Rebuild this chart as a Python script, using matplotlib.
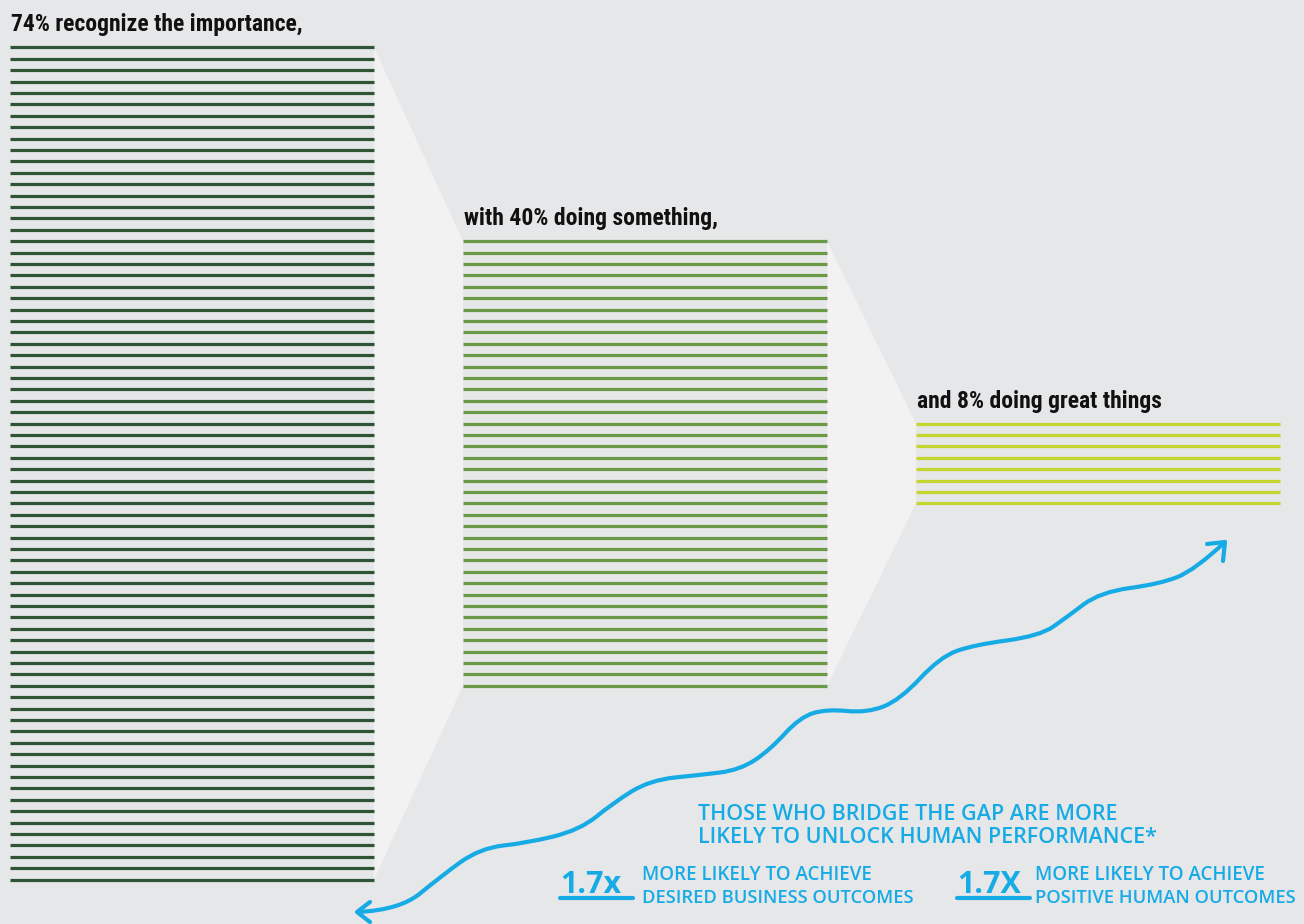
import matplotlib.pyplot as plt
from matplotlib.path import Path
from matplotlib.patches import PathPatch, Polygon
from matplotlib import font_manager

# funnel data: one line per percent
pcts = [74, 40, 8]
labels = ["74% recognize the importance,", "with 40% doing something,", "and 8% doing great things"]
colors = ["#2f5436", "#6a9a45", "#c4d52f"]

head1 = "THOSE WHO BRIDGE THE GAP ARE MORE"
head2 = "LIKELY TO UNLOCK HUMAN PERFORMANCE*"
factors = ["1.7x", "1.7X"]
notes = [("MORE LIKELY TO ACHIEVE", "DESIRED BUSINESS OUTCOMES"),
         ("MORE LIKELY TO ACHIEVE", "POSITIVE HUMAN OUTCOMES")]

bg = "#e6e7e9"
light = "#f2f2f2"
blue = "#17abe6"

names = set(f.name for f in font_manager.fontManager.ttflist)
head_font = "DejaVu Sans"
for cand in ["Roboto Condensed", "Liberation Sans Narrow", "Open Sans Condensed", "Lato"]:
    if cand in names:
        head_font = cand
        break

fig = plt.figure(figsize=(13.04, 9.24), dpi=100)
fig.patch.set_facecolor(bg)
ax = fig.add_axes([0, 0, 1, 1])
ax.set_xlim(0, 1304)
ax.set_ylim(924, 0)
ax.axis('off')
ax.set_facecolor(bg)

step = 11.4
mid = 463.5
width = 364
xs = [10, 463, 916]

tops, bots = [], []
for p in pcts:
    tops.append(mid - (p - 1) / 2 * step)
    bots.append(mid + (p - 1) / 2 * step)

# light funnel connectors
for i in range(len(pcts) - 1):
    x1 = xs[i] + width
    x2 = xs[i + 1]
    poly = Polygon([(x1, tops[i]), (x2, tops[i + 1]), (x2, bots[i + 1]), (x1, bots[i])],
                   closed=True, facecolor=light, edgecolor='none', zorder=1)
    ax.add_patch(poly)

for i, p in enumerate(pcts):
    ys = [tops[i] + k * step for k in range(p)]
    ax.hlines(ys, xs[i], xs[i] + width, colors=colors[i], linewidth=2.3, zorder=2,
              capstyle='butt')
    ax.text(xs[i] + 1, tops[i] - 16, labels[i], fontsize=17, fontweight='bold',
            family=head_font, color='#111111', va='baseline', ha='left')

# hand drawn arrow
pts = [(358, 912), (400, 910), (440, 877), (480, 848), (527, 843), (580, 830),
       (613, 803), (650, 780), (700, 775), (740, 770), (770, 750), (800, 717),
       (827, 709), (867, 713), (900, 700), (940, 657), (973, 645), (1040, 636),
       (1067, 617), (1100, 592), (1160, 584), (1195, 570), (1225, 542)]
verts = [pts[0]]
codes = [Path.MOVETO]
for j in range(1, len(pts) - 1):
    m = ((pts[j][0] + pts[j + 1][0]) / 2, (pts[j][1] + pts[j + 1][1]) / 2)
    if j == len(pts) - 2:
        m = pts[-1]
    verts += [pts[j], m]
    codes += [Path.CURVE3, Path.CURVE3]
ax.add_patch(PathPatch(Path(verts, codes), facecolor='none', edgecolor=blue,
                       linewidth=3, capstyle='round', joinstyle='round', zorder=3))
ax.plot([370, 357, 370], [902, 912, 922], color=blue, linewidth=3,
        solid_capstyle='round', solid_joinstyle='round', zorder=3)
ax.plot([1207, 1225, 1223], [544, 542, 561], color=blue, linewidth=3,
        solid_capstyle='round', solid_joinstyle='round', zorder=3)

# callout text
hand = "Open Sans"
ax.text(698, 820, head1, fontsize=15.5, color=blue, family=hand, va='baseline',
        fontweight='semibold')
ax.text(698, 843, head2, fontsize=15.5, color=blue, family=hand, va='baseline',
        fontweight='semibold')

fx = [560, 957]
nx = [642, 1035]
for i in range(2):
    ax.text(fx[i], 893, factors[i], fontsize=22, fontweight='bold', color=blue,
            family=hand, va='baseline')
    ax.plot([fx[i], fx[i] + 73], [898, 898], color=blue, linewidth=3,
            solid_capstyle='round')
    ax.text(nx[i], 880, notes[i][0], fontsize=13.5, color=blue, family=hand,
            va='baseline', fontweight='semibold')
    ax.text(nx[i], 903, notes[i][1], fontsize=13.2, color=blue, family=hand,
            va='baseline', fontweight='semibold')

fig.savefig("out.png", dpi=100, facecolor=bg)
